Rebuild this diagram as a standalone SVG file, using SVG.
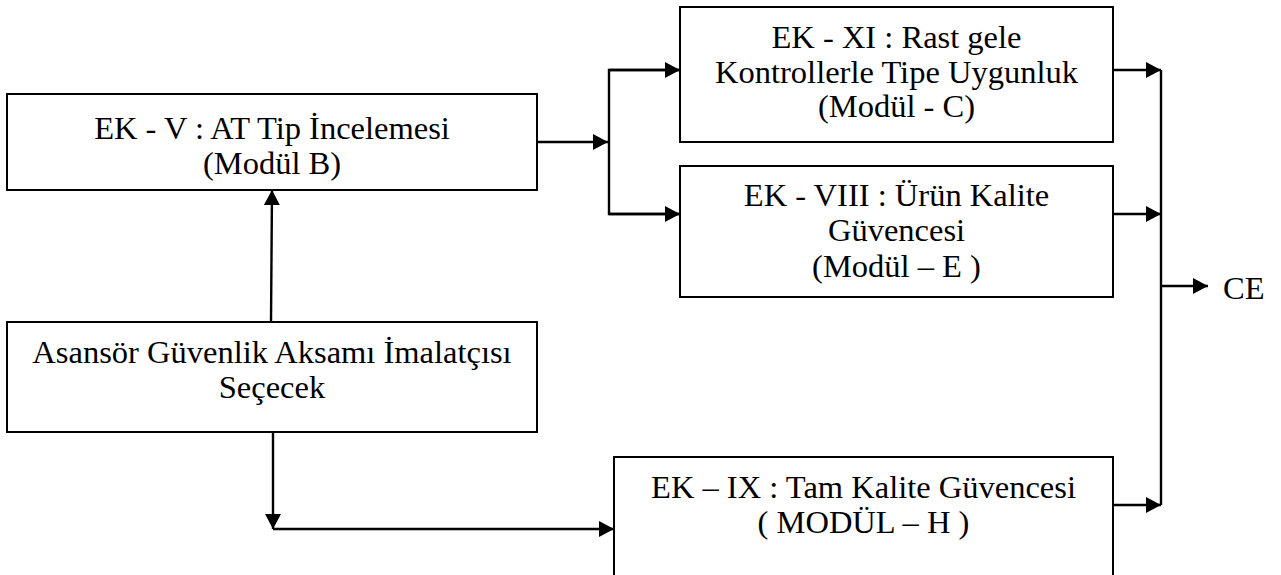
<svg xmlns="http://www.w3.org/2000/svg" width="1281" height="575" viewBox="0 0 1281 575">
<style>
.box{fill:#fff;stroke:#000;stroke-width:2}
.t{font-family:"Liberation Serif","Times New Roman",serif;font-size:32.5px;fill:#000;text-anchor:middle}
.c{fill:none;stroke:#000;stroke-width:2.4}
</style>
<defs>
<marker id="ah" markerUnits="userSpaceOnUse" markerWidth="16" markerHeight="16" refX="15" refY="8" orient="auto">
<path d="M0,0 L15,8 L0,16 z" fill="#000"/>
</marker>
</defs>
<rect width="1281" height="575" fill="#fff"/>
<g id="connectors">
<line class="c" x1="537" y1="142" x2="608" y2="142" marker-end="url(#ah)"/>
<polyline class="c" points="680,70 609,70 609,214 680,214"/>
<line class="c" x1="609" y1="70" x2="680" y2="70" marker-end="url(#ah)"/>
<line class="c" x1="609" y1="214" x2="680" y2="214" marker-end="url(#ah)"/>
<line class="c" x1="271" y1="322" x2="272" y2="190" marker-end="url(#ah)"/>
<line class="c" x1="273" y1="432" x2="273" y2="529" marker-end="url(#ah)"/>
<line class="c" x1="273" y1="529" x2="614" y2="529" marker-end="url(#ah)"/>
<line class="c" x1="1113" y1="70" x2="1161" y2="70" marker-end="url(#ah)"/>
<line class="c" x1="1113" y1="214" x2="1161" y2="214" marker-end="url(#ah)"/>
<line class="c" x1="1113" y1="505" x2="1161" y2="505" marker-end="url(#ah)"/>
<line class="c" x1="1161" y1="70" x2="1161" y2="505"/>
<line class="c" x1="1161" y1="286" x2="1208" y2="286" marker-end="url(#ah)"/>
</g>
<g id="modul-b">
<rect class="box" x="7" y="94" width="530" height="96"/>
<text class="t" x="272" y="139">EK - V : AT Tip İncelemesi</text>
<text class="t" x="272" y="174">(Modül B)</text>
</g>
<g id="modul-c">
<rect class="box" x="680" y="7" width="433" height="135"/>
<text class="t" x="896.5" y="48">EK - XI : Rast gele</text>
<text class="t" x="896.5" y="83">Kontrollerle Tipe Uygunluk</text>
<text class="t" x="896.5" y="117">(Modül - C)</text>
</g>
<g id="modul-e">
<rect class="box" x="680" y="166" width="433" height="131"/>
<text class="t" x="896.5" y="206">EK - VIII : Ürün Kalite</text>
<text class="t" x="896.5" y="241">Güvencesi</text>
<text class="t" x="896.5" y="277">(Modül – E )</text>
</g>
<g id="imalatci">
<rect class="box" x="7" y="322" width="530" height="110"/>
<text class="t" x="272" y="363">Asansör Güvenlik Aksamı İmalatçısı</text>
<text class="t" x="272" y="398">Seçecek</text>
</g>
<g id="modul-h">
<rect class="box" x="614" y="457" width="499" height="130"/>
<text class="t" x="863.5" y="498">EK – IX : Tam Kalite Güvencesi</text>
<text class="t" x="863.5" y="533">( MODÜL – H )</text>
</g>
<g id="ce">
<text class="t" x="1223" y="299" style="text-anchor:start">CE</text>
</g>
</svg>
